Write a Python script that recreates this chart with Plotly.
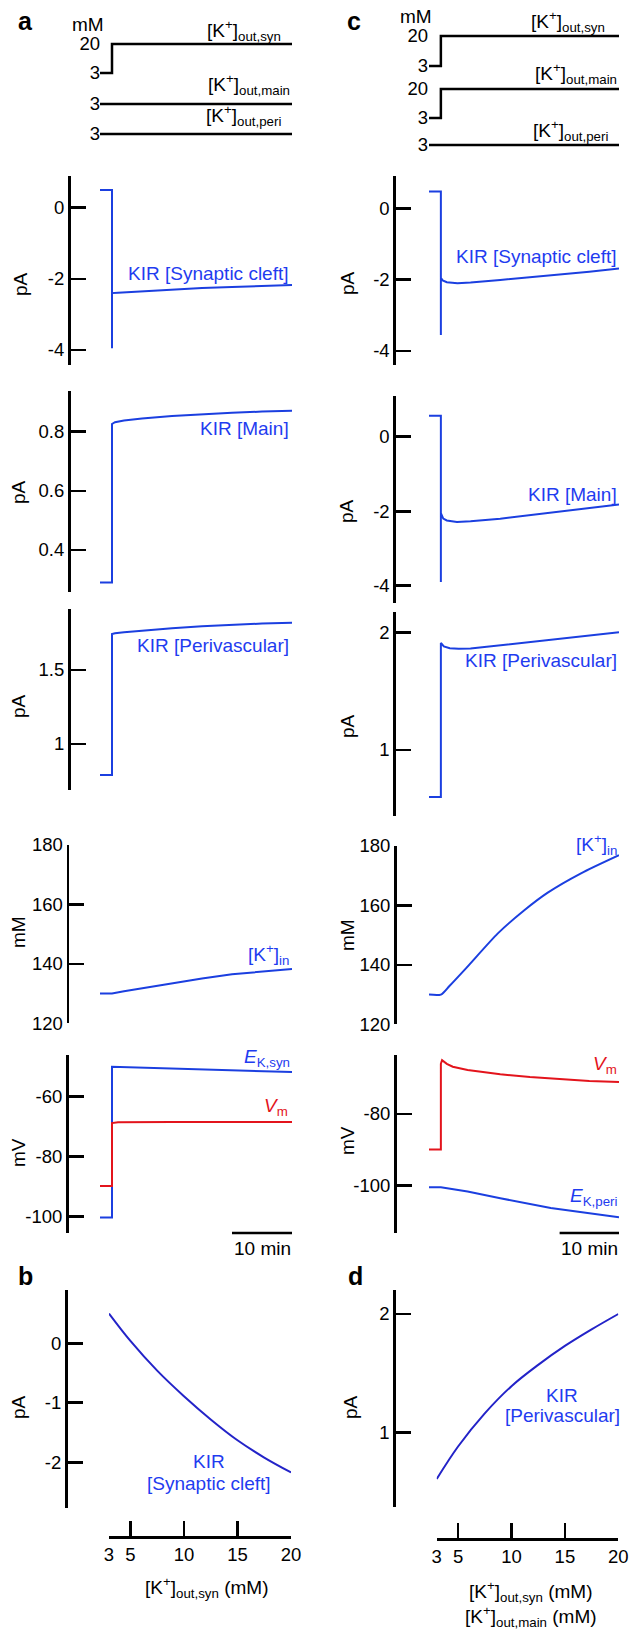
import plotly.graph_objects as go

# ---------------- data ----------------
# time in min, [K+]out step at t = 0
stim_t = [-2, 0, 0, 30]
stim_a_syn = [3, 3, 20, 20]
stim_a_main = [3, 3, 3, 3]
stim_a_peri = [3, 3, 3, 3]
stim_c_syn = [3, 3, 20, 20]
stim_c_main = [3, 3, 20, 20]
stim_c_peri = [3, 3, 3, 3]

# panel a
a_syn_t = [-2, 0, 0, 0, 1, 5, 10, 15, 20, 25, 30]
a_syn_v = [0.5, 0.5, -3.95, -2.40, -2.39, -2.35, -2.30, -2.26, -2.23, -2.20, -2.17]
a_main_t = [-2, 0, 0, 0.5, 2, 5, 10, 15, 20, 25, 30]
a_main_v = [0.29, 0.29, 0.826, 0.832, 0.838, 0.845, 0.853, 0.859, 0.864, 0.868, 0.871]
a_peri_t = [-2, 0, 0, 0.5, 2, 5, 10, 15, 20, 25, 30]
a_peri_v = [0.79, 0.79, 1.743, 1.748, 1.755, 1.767, 1.782, 1.795, 1.806, 1.814, 1.82]
a_kin_t = [-2, 0, 2, 5, 10, 15, 20, 25, 30]
a_kin_v = [130, 130, 130.8, 131.8, 133.5, 135.1, 136.5, 137.5, 138.3]
a_ek_t = [-2, 0, 0, 5, 10, 15, 20, 25, 30]
a_ek_v = [-100.3, -100.3, -50.0, -50.3, -50.6, -50.9, -51.2, -51.5, -51.8]
a_vm_t = [-2, 0, 0, 1, 10, 20, 30]
a_vm_v = [-89.8, -89.8, -68.8, -68.5, -68.4, -68.4, -68.4]

# panel c
c_syn_t = [-2, 0, 0, 0, 0.3, 1, 2.8, 5, 10, 15, 20, 25, 30]
c_syn_v = [0.47, 0.47, -3.55, -1.95, -2.02, -2.07, -2.10, -2.08, -2.01, -1.94, -1.86, -1.78, -1.69]
c_main_t = [-2, 0, 0, 0, 0.4, 1, 2.7, 5, 10, 15, 20, 25, 30]
c_main_v = [0.56, 0.56, -3.9, -2.05, -2.2, -2.25, -2.29, -2.27, -2.2, -2.11, -2.02, -1.92, -1.82]
c_peri_t = [-2, 0, 0, 0.5, 1.5, 3, 5, 10, 15, 20, 25, 30]
c_peri_v = [0.6, 0.6, 1.91, 1.88, 1.865, 1.86, 1.862, 1.89, 1.92, 1.95, 1.975, 2.0]
c_kin_t = [-2, 0, 1.4, 4.3, 9.6, 14, 18, 23.6, 30]
c_kin_v = [130, 130, 132.8, 139.0, 150.6, 158.3, 164.3, 170.8, 176.9]
c_vm_t = [-2, 0, 0, 0.2, 1, 2, 4.5, 10, 15, 20, 25, 30]
c_vm_v = [-89.9, -89.9, -66, -65.0, -66.0, -66.8, -67.7, -68.9, -69.7, -70.3, -70.8, -71.1]
c_ek_t = [-2, 0, 4.5, 10, 18.5, 25, 30]
c_ek_v = [-100.45, -100.45, -101.6, -103.5, -106.2, -107.7, -108.8]

# panels b, d (steady state vs [K+]out)
k_out = [3, 5, 7.5, 10, 12.5, 15, 17.5, 20]
b_kir = [0.50, 0.04, -0.46, -0.89, -1.28, -1.63, -1.92, -2.17]
d_kir = [0.605, 0.88, 1.16, 1.39, 1.57, 1.73, 1.87, 2.0]

k_ticks = [3, 5, 10, 15, 20]
k_ticktext = ["3", "5", "10", "15", "20"]
scale_bar_min = 10

# ---------------- layout helpers ----------------
W, H = 630, 1629
FONT = "Liberation Sans, Arial, sans-serif"
BLUE = "#1b3fe0"
DBLUE = "#2323c8"
RED = "#e3141c"
TXTBLUE = "#1f3cf0"
TICK = 18.5
LAB = 19
AXW = 2.7


def fx(p):
    return p / W


def fy(p):
    return 1 - p / H


def yr(p_top, p_bot, v1, p1, v2, p2):
    s = (v2 - v1) / (p2 - p1)
    return [v1 + (p_bot - p1) * s, v1 + (p_top - p1) * s]


fig = go.Figure()
layout = {}
ann = []
shapes = []
n_ax = [0]


def new_axes(xdom, xrange, ydom, yrange, ypos, tickvals=None, ticktext=None,
             yline=True, xvisible=False, xpos=None, xtickvals=None, xticktext=None):
    n_ax[0] += 1
    n = n_ax[0]
    sfx = "" if n == 1 else str(n)
    xa = dict(domain=[fx(xdom[0]), fx(xdom[1])], range=xrange, showgrid=False,
              zeroline=False, fixedrange=True, automargin=False)
    if xvisible:
        xa.update(anchor="free", position=fy(xpos), showline=True, linewidth=AXW,
                  linecolor="black", ticks="inside", ticklen=15, tickwidth=AXW,
                  tickcolor="black", tickvals=xtickvals, ticktext=xticktext,
                  tickfont=dict(family=FONT, size=TICK, color="black"))
    else:
        xa.update(visible=False)
    ya = dict(domain=[fy(ydom[1]), fy(ydom[0])], range=yrange, showgrid=False,
              zeroline=False, anchor="free", position=fx(ypos), fixedrange=True,
              automargin=False, tickvals=tickvals, ticktext=ticktext,
              tickfont=dict(family=FONT, size=TICK, color="black"))
    if yline:
        ya.update(showline=True, linewidth=AXW, linecolor="black", ticks="inside",
                  ticklen=15, tickwidth=AXW, tickcolor="black")
    else:
        ya.update(showline=False, ticks="")
    layout["xaxis" + sfx] = xa
    layout["yaxis" + sfx] = ya
    return "x" + sfx, "y" + sfx


def line(xa, ya, x, y, color, width=2.0, shape="linear", smoothing=1.0):
    ln = dict(color=color, width=width, shape=shape)
    if shape == "spline":
        ln["smoothing"] = smoothing
    fig.add_trace(go.Scatter(x=x, y=y, xaxis=xa, yaxis=ya, mode="lines",
                             line=ln, showlegend=False, hoverinfo="skip"))


def text(x, y, s, size=LAB, color="black", xanchor="center", angle=0, bold=False):
    if bold:
        s = "<b>" + s + "</b>"
    ann.append(dict(x=fx(x), y=fy(y), xref="paper", yref="paper", text=s,
                    showarrow=False, xanchor=xanchor, yanchor="middle",
                    textangle=angle, font=dict(family=FONT, size=size, color=color)))


TRANGE = [-2, 30]
LX = (100, 292)   # left column time-axis pixels
RX = (429, 619)   # right column time-axis pixels
KLAB = "[K<sup>+</sup>]"

# ---------------- panel a stimulus ----------------
xa, ya = new_axes(LX, TRANGE, (40, 77), yr(40, 77, 20, 44, 3, 73), 100, [3, 20], ["3", "20"], yline=False)
line(xa, ya, stim_t, stim_a_syn, "black", 2.5)
xa, ya = new_axes(LX, TRANGE, (98, 110), yr(98, 110, 3, 104, 2, 106), 100, [3], ["3"], yline=False)
line(xa, ya, stim_t, stim_a_main, "black", 2.5)
xa, ya = new_axes(LX, TRANGE, (128, 140), yr(128, 140, 3, 134, 2, 136), 100, [3], ["3"], yline=False)
line(xa, ya, stim_t, stim_a_peri, "black", 2.5)
text(88, 25, "mM")
text(283, 31, KLAB + "<sub>out,syn</sub>", xanchor="right")
text(292, 85, KLAB + "<sub>out,main</sub>", xanchor="right")
text(283, 115, KLAB + "<sub>out,peri</sub>", xanchor="right")
text(25, 21, "a", size=25, bold=True)

# ---------------- panel c stimulus ----------------
xa, ya = new_axes(RX, TRANGE, (32, 70), yr(32, 70, 20, 36, 3, 66), 428, [3, 20], ["3", "20"], yline=False)
line(xa, ya, stim_t, stim_c_syn, "black", 2.5)
xa, ya = new_axes(RX, TRANGE, (85, 122), yr(85, 122, 20, 89, 3, 118), 428, [3, 20], ["3", "20"], yline=False)
line(xa, ya, stim_t, stim_c_main, "black", 2.5)
xa, ya = new_axes(RX, TRANGE, (139, 151), yr(139, 151, 3, 145, 2, 147), 428, [3], ["3"], yline=False)
line(xa, ya, stim_t, stim_c_peri, "black", 2.5)
text(416, 17, "mM")
text(607, 22, KLAB + "<sub>out,syn</sub>", xanchor="right")
text(619, 74, KLAB + "<sub>out,main</sub>", xanchor="right")
text(610, 130, KLAB + "<sub>out,peri</sub>", xanchor="right")
text(354, 21, "c", size=25, bold=True)

# ---------------- panel a traces ----------------
xa, ya = new_axes(LX, TRANGE, (176, 365), yr(176, 365, 0, 207.7, -4, 350), 69, [0, -2, -4], ["0", "-2", "-4"])
line(xa, ya, a_syn_t, a_syn_v, BLUE)
text(20, 284, "pA", angle=-90)
text(291, 273, "KIR [Synaptic cleft]", color=TXTBLUE, xanchor="right")

xa, ya = new_axes(LX, TRANGE, (391, 592), yr(391, 592, 0.8, 431.7, 0.4, 550), 69, [0.4, 0.6, 0.8], ["0.4", "0.6", "0.8"])
line(xa, ya, a_main_t, a_main_v, BLUE)
text(18, 492, "pA", angle=-90)
text(291, 428, "KIR [Main]", color=TXTBLUE, xanchor="right")

xa, ya = new_axes(LX, TRANGE, (609, 790), yr(609, 790, 1.5, 670, 1, 744), 69, [1, 1.5], ["1", "1.5"])
line(xa, ya, a_peri_t, a_peri_v, BLUE)
text(18, 706, "pA", angle=-90)
text(291, 645, "KIR [Perivascular]", color=TXTBLUE, xanchor="right")

xa, ya = new_axes(LX, TRANGE, (845, 1023.3), [120, 180], 67.5, [120, 140, 160, 180], ["120", "140", "160", "180"])
line(xa, ya, a_kin_t, a_kin_v, BLUE)
text(18, 932, "mM", angle=-90)
text(291, 955, KLAB + "<sub>in</sub>", color=TXTBLUE, xanchor="right")

xa, ya = new_axes(LX, TRANGE, (1055, 1233), yr(1055, 1233, -60, 1096.7, -100, 1216.7), 67, [-100, -80, -60], ["-100", "-80", "-60"])
line(xa, ya, a_ek_t, a_ek_v, BLUE)
line(xa, ya, a_vm_t, a_vm_v, RED)
text(18, 1153, "mV", angle=-90)
text(292, 1058, "<i>E</i><sub>K,syn</sub>", color=TXTBLUE, xanchor="right")
text(290, 1107, "<i>V</i><sub>m</sub>", color=RED, xanchor="right")
shapes.append(dict(type="line", xref=xa, yref="paper", x0=TRANGE[1] - scale_bar_min, x1=TRANGE[1],
                   y0=fy(1233), y1=fy(1233), line=dict(color="black", width=2.5)))
ann.append(dict(x=TRANGE[1] - scale_bar_min / 2, y=fy(1248), xref=xa, yref="paper", text="10 min",
                showarrow=False, xanchor="center", yanchor="middle",
                font=dict(family=FONT, size=LAB, color="black")))

# ---------------- panel c traces ----------------
xa, ya = new_axes(RX, TRANGE, (176, 365), yr(176, 365, 0, 208.3, -4, 351), 394.3, [0, -2, -4], ["0", "-2", "-4"])
line(xa, ya, c_syn_t, c_syn_v, BLUE)
text(347, 283, "pA", angle=-90)
text(619, 256.5, "KIR [Synaptic cleft]", color=TXTBLUE, xanchor="right")

xa, ya = new_axes(RX, TRANGE, (396, 603.3), yr(396, 603.3, 0, 436.7, -4, 585.7), 394.3, [0, -2, -4], ["0", "-2", "-4"])
line(xa, ya, c_main_t, c_main_v, BLUE)
text(347, 511, "pA", angle=-90)
text(619, 494, "KIR [Main]", color=TXTBLUE, xanchor="right")

xa, ya = new_axes(RX, TRANGE, (612.3, 816), yr(612.3, 816, 2, 632.3, 1, 750), 394.3, [1, 2], ["1", "2"])
line(xa, ya, c_peri_t, c_peri_v, BLUE)
text(347, 726, "pA", angle=-90)
text(619, 660, "KIR [Perivascular]", color=TXTBLUE, xanchor="right")

xa, ya = new_axes(RX, TRANGE, (846, 1024.3), [120, 180], 395, [120, 140, 160, 180], ["120", "140", "160", "180"])
line(xa, ya, c_kin_t, c_kin_v, BLUE, shape="spline", smoothing=0.7)
text(347, 935, "mM", angle=-90)
text(619, 844, KLAB + "<sub>in</sub>", color=TXTBLUE, xanchor="right")

xa, ya = new_axes(RX, TRANGE, (1055, 1233), yr(1055, 1233, -80, 1114, -100, 1185.7), 395, [-100, -80], ["-100", "-80"])
line(xa, ya, c_ek_t, c_ek_v, BLUE)
line(xa, ya, c_vm_t, c_vm_v, RED)
text(347, 1141, "mV", angle=-90)
text(619, 1065, "<i>V</i><sub>m</sub>", color=RED, xanchor="right")
text(619, 1197, "<i>E</i><sub>K,peri</sub>", color=TXTBLUE, xanchor="right")
shapes.append(dict(type="line", xref=xa, yref="paper", x0=TRANGE[1] - scale_bar_min, x1=TRANGE[1],
                   y0=fy(1233), y1=fy(1233), line=dict(color="black", width=2.5)))
ann.append(dict(x=TRANGE[1] - scale_bar_min / 2, y=fy(1248), xref=xa, yref="paper", text="10 min",
                showarrow=False, xanchor="center", yanchor="middle",
                font=dict(family=FONT, size=LAB, color="black")))

# ---------------- panel b ----------------
xa, ya = new_axes((109, 291), [3, 20], (1290, 1508), yr(1290, 1508, 0, 1343.3, -2, 1462.3), 66,
                  [-2, -1, 0], ["-2", "-1", "0"], xvisible=True, xpos=1537.3,
                  xtickvals=k_ticks, xticktext=k_ticktext)
line(xa, ya, k_out, b_kir, DBLUE, shape="spline")
text(18, 1407, "pA", angle=-90)
text(209, 1461, "KIR", color=TXTBLUE)
text(209, 1483, "[Synaptic cleft]", color=TXTBLUE)
text(206, 1587, KLAB + "<sub>out,syn</sub> (mM)")
text(25, 1276, "b", size=25, bold=True)

# ---------------- panel d ----------------
xa, ya = new_axes((436.7, 618.3), [3, 20], (1290, 1506.7), yr(1290, 1506.7, 2, 1314, 1, 1432.3), 394.3,
                  [1, 2], ["1", "2"], xvisible=True, xpos=1539,
                  xtickvals=k_ticks, xticktext=k_ticktext)
line(xa, ya, k_out, d_kir, DBLUE, shape="spline")
text(350, 1407, "pA", angle=-90)
text(562, 1395, "KIR", color=TXTBLUE)
text(562, 1415, "[Perivascular]", color=TXTBLUE)
text(530, 1591, KLAB + "<sub>out,syn</sub> (mM)")
text(531, 1616, KLAB + "<sub>out,main</sub> (mM)")
text(355, 1276, "d", size=25, bold=True)

fig.update_layout(**layout)
fig.update_layout(template="none", width=W, height=H, autosize=False,
                  margin=dict(l=0, r=0, t=0, b=0, pad=0),
                  paper_bgcolor="white", plot_bgcolor="white", showlegend=False,
                  annotations=ann, shapes=shapes, font=dict(family=FONT, size=LAB))
fig.write_html("out.html", config={"displayModeBar": False, "staticPlot": True},
               post_script="document.body.style.margin='0px';document.body.style.overflow='hidden';")
